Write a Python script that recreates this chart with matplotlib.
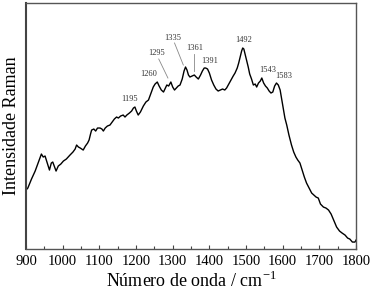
import numpy as np
import matplotlib
matplotlib.use('Agg')
import matplotlib.pyplot as plt
from matplotlib.ticker import MultipleLocator

# Raman spectrum (wavenumber, intensity in arbitrary units)
wavenumber = [900, 905, 915, 925, 935, 942, 947, 952, 958, 964, 969, 973, 978, 982, 988,
              995, 1002, 1010, 1020, 1028, 1034, 1038, 1043, 1048, 1056, 1062, 1068, 1072,
              1076, 1079, 1085, 1090, 1095, 1102, 1107, 1111, 1116, 1122, 1129, 1135, 1141,
              1147, 1152, 1158, 1165, 1170, 1175, 1182, 1188, 1193, 1197, 1201, 1206, 1212,
              1220, 1227, 1234, 1240, 1247, 1252, 1258, 1263, 1269, 1275, 1280, 1284, 1289,
              1295, 1300, 1305, 1310, 1315, 1320, 1326, 1331, 1335, 1339, 1343, 1347, 1353,
              1359, 1364, 1370, 1376, 1381, 1386, 1390, 1395, 1400, 1406, 1412, 1418, 1424,
              1430, 1436, 1442, 1447, 1453, 1459, 1465, 1470, 1476, 1480, 1484, 1488, 1491,
              1494, 1498, 1502, 1506, 1510, 1515, 1520, 1525, 1529, 1534, 1539, 1543, 1548,
              1553, 1558, 1563, 1568, 1573, 1578, 1583, 1588, 1593, 1598, 1602, 1606, 1611,
              1617, 1624, 1630, 1636, 1641, 1647, 1653, 1659, 1665, 1672, 1679, 1685, 1691,
              1697, 1703, 1711, 1718, 1725, 1732, 1740, 1747, 1755, 1762, 1770, 1777, 1783,
              1790, 1797, 1800]
intensity = [59, 61, 70, 78, 88, 95, 92, 93, 86, 79, 86, 87, 82, 78, 83,
             85, 88, 90, 94, 97, 100, 104, 102, 101, 99, 103, 106, 109,
             115, 119, 120, 118, 121, 121, 120, 118, 121, 123, 124, 127, 130,
             132, 131, 133, 134, 132, 134, 136, 138, 141, 142, 138, 134, 137,
             143, 147, 149, 155, 162, 165, 167, 163, 159, 157, 161, 164, 163,
             167, 162, 159, 161, 163, 164, 170, 178, 182, 179, 174, 172, 173,
             174, 172, 170, 174, 178, 181, 181, 180, 176, 169, 164, 160, 158,
             159, 160, 159, 161, 165, 169, 173, 176, 181, 186, 192, 198, 201,
             200, 194, 188, 182, 175, 170, 164, 165, 162, 166, 168, 171, 166,
             163, 161, 158, 156, 157, 163, 166, 164, 159, 148, 139, 131, 124,
             114, 104, 97, 92, 89, 86, 79, 72, 66, 61, 56, 54, 52,
             51, 45, 42, 41, 39, 35, 28, 22, 18, 16, 14, 11, 10,
             7, 7, 9]

# peak labels: text, label position (x, y)
peak_labels = ['1195', '1260', '1295', '1335', '1361', '1391', '1492', '1543', '1583']
label_x = [1182, 1235, 1256, 1300, 1361, 1402, 1493, 1558, 1602]
label_y = [150, 175, 196, 211, 201, 188, 209, 179, 173]

# leader lines for the crowded labels
leader_x0 = [1262, 1305, 1359]
leader_y0 = [190, 206, 195]
leader_x1 = [1287, 1329, 1359]
leader_y1 = [171, 184, 178]

plt.rcParams['font.family'] = 'Liberation Serif'

fig = plt.figure(figsize=(3.74, 2.99), dpi=100)
ax = fig.add_axes([0.0695, 0.167, 0.8825, 0.823])

ax.plot(wavenumber, intensity, color='black', lw=1.0)

for t, x, y in zip(peak_labels, label_x, label_y):
    ax.text(x, y, t, fontsize=6, ha='center', va='center', color='#333333')

for x0, y0, x1, y1 in zip(leader_x0, leader_y0, leader_x1, leader_y1):
    ax.plot([x0, x1], [y0, y1], color='#888888', lw=0.6)

ax.set_xlim(900, 1800)
ax.set_ylim(0, 246)
ax.xaxis.set_major_locator(MultipleLocator(100))
ax.xaxis.set_minor_locator(MultipleLocator(50))
ax.tick_params(axis='x', which='major', direction='in', length=3, width=0.8,
               labelsize=10.5, pad=4, color='#444444')
ax.tick_params(axis='x', which='minor', direction='in', length=2, width=0.8, color='#444444')
ax.set_yticks([])

for side in ['top', 'right', 'bottom']:
    ax.spines[side].set_color('#555555')
    ax.spines[side].set_linewidth(1.0)
ax.spines['left'].set_color('#444444')
ax.spines['left'].set_linewidth(1.5)

ax.set_xlabel('Número de onda / cm$^{\\mathregular{-1}}$', fontsize=13, labelpad=2)
ax.set_ylabel('Intensidade Raman', fontsize=13, labelpad=4)

fig.savefig('out.png', dpi=100)
